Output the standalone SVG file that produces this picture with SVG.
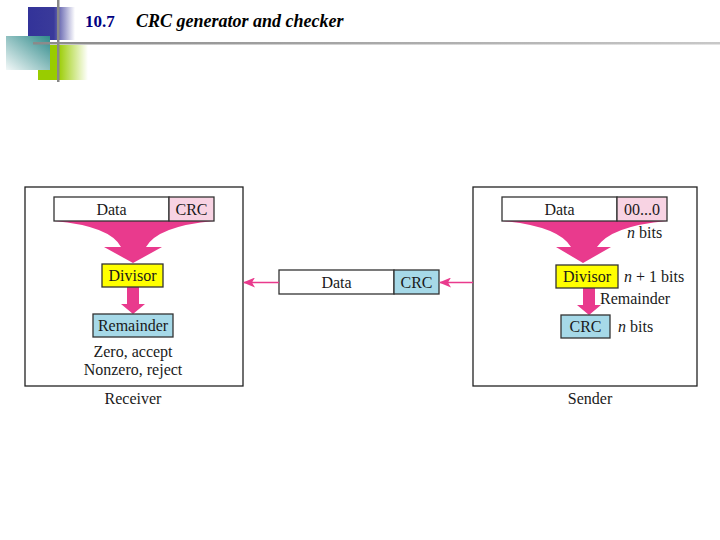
<svg xmlns="http://www.w3.org/2000/svg" width="720" height="540" viewBox="0 0 720 540">
<style>
.t{font-family:"Liberation Serif","Times New Roman",serif;font-size:16px;fill:#1a1a1a}
.c{text-anchor:middle}
.frame{fill:#fff;stroke:#222;stroke-width:1.3}
.cell{stroke:#333;stroke-width:1.3}
.w{fill:#fff}.pk{fill:#f8d3e3}.bl{fill:#a6d9e8}.yl{fill:#ffff00}
.mag{fill:#e93a8d}
.conn{stroke:#e93a8d;stroke-width:1.6;fill:none}
</style>
<defs>
<linearGradient id="gb" x1="0" y1="0" x2="1" y2="0"><stop offset="0" stop-color="#333399"/><stop offset="0.55" stop-color="#3a3a9a"/><stop offset="1" stop-color="#fff"/></linearGradient>
<linearGradient id="gt" x1="0" y1="1" x2="1" y2="0"><stop offset="0" stop-color="#f2f8f8"/><stop offset="1" stop-color="#2f8a8a"/></linearGradient>
<linearGradient id="gg" x1="0" y1="0" x2="1" y2="0"><stop offset="0" stop-color="#99cc00"/><stop offset="0.4" stop-color="#99cc00"/><stop offset="1" stop-color="#fff"/></linearGradient>
<linearGradient id="gl" x1="0" y1="0" x2="1" y2="0"><stop offset="0" stop-color="#8a8a8a"/><stop offset="1" stop-color="#c8c8c8"/></linearGradient>
<marker id="ah" viewBox="0 0 12 10" refX="11" refY="5" markerWidth="12" markerHeight="10" markerUnits="userSpaceOnUse" orient="auto"><path d="M0,0 L12,5 L0,10 L3,5 Z" fill="#e93a8d"/></marker>
</defs>
<rect width="720" height="540" fill="#fff"/>
<g id="header">
<rect x="28" y="7" width="47" height="33" fill="url(#gb)"/>
<rect x="38" y="45" width="50" height="35" fill="url(#gg)"/>
<rect x="6" y="36" width="44" height="34" fill="url(#gt)"/>
<rect x="57" y="0" width="2.5" height="82" fill="#888"/>
<rect x="33" y="42" width="687" height="2.5" fill="url(#gl)"/>
<text x="85" y="27" style="font-family:'Liberation Serif',serif;font-size:17px;font-weight:bold;fill:#000080">10.7</text>
<text x="136" y="27" style="font-family:'Liberation Serif',serif;font-size:18px;font-weight:bold;font-style:italic;fill:#000">CRC generator and checker</text>
</g>
<g id="receiver">
<rect class="frame" x="25" y="187" width="218" height="199"/>
<path class="mag" d="M54,221 L214,221 Q158,226 146,247 L162,247 L133,263 L104,247 L121,247 Q110,226 54,221 Z"/>
<rect class="cell w" x="54" y="197" width="115" height="24"/>
<rect class="cell pk" x="169" y="197" width="45" height="24"/>
<text class="t c" x="111.5" y="215">Data</text>
<text class="t c" x="191.5" y="215">CRC</text>
<path class="mag" d="M127,287 L139,287 L139,304 L145,304 L133,314 L121,304 L127,304 Z"/>
<rect class="cell yl" x="102" y="264" width="61" height="23"/>
<text class="t c" x="132.5" y="281">Divisor</text>
<rect class="cell bl" x="93" y="314" width="80" height="23"/>
<text class="t c" x="133" y="331">Remainder</text>
<text class="t c" x="133" y="357">Zero, accept</text>
<text class="t c" x="133" y="375">Nonzero, reject</text>
<text class="t c" x="133" y="404">Receiver</text>
</g>
<g id="sender">
<rect class="frame" x="473" y="187" width="224" height="199"/>
<path class="mag" d="M502,221 L667,221 Q611,226 597,247 L611,247 L583,263 L556,247 L571,247 Q558,226 502,221 Z"/>
<rect class="cell w" x="502" y="197" width="115" height="24"/>
<rect class="cell pk" x="617" y="197" width="50" height="24"/>
<text class="t c" x="559.5" y="215">Data</text>
<text class="t c" x="642" y="215">00...0</text>
<text class="t" x="627" y="238"><tspan font-style="italic">n</tspan> bits</text>
<path class="mag" d="M583,288 L595,288 L595,305 L601,305 L589,315 L577,305 L583,305 Z"/>
<rect class="cell yl" x="556" y="265" width="62" height="23"/>
<text class="t c" x="587" y="282">Divisor</text>
<text class="t" x="624" y="282"><tspan font-style="italic">n</tspan> + 1 bits</text>
<text class="t" x="600" y="304">Remainder</text>
<rect class="cell bl" x="561" y="315" width="49" height="23"/>
<text class="t c" x="585.5" y="332">CRC</text>
<text class="t" x="618" y="332"><tspan font-style="italic">n</tspan> bits</text>
<text class="t c" x="590" y="404">Sender</text>
</g>
<g id="frame-data">
<rect class="cell w" x="279" y="270" width="115" height="24"/>
<rect class="cell bl" x="394" y="270" width="45" height="24"/>
<text class="t c" x="336.5" y="288">Data</text>
<text class="t c" x="416.5" y="288">CRC</text>
</g>
<g id="connectors">
<line class="conn" x1="473" y1="282.5" x2="440" y2="282.5" marker-end="url(#ah)"/>
<line class="conn" x1="279" y1="282.5" x2="244" y2="282.5" marker-end="url(#ah)"/>
</g>
</svg>
